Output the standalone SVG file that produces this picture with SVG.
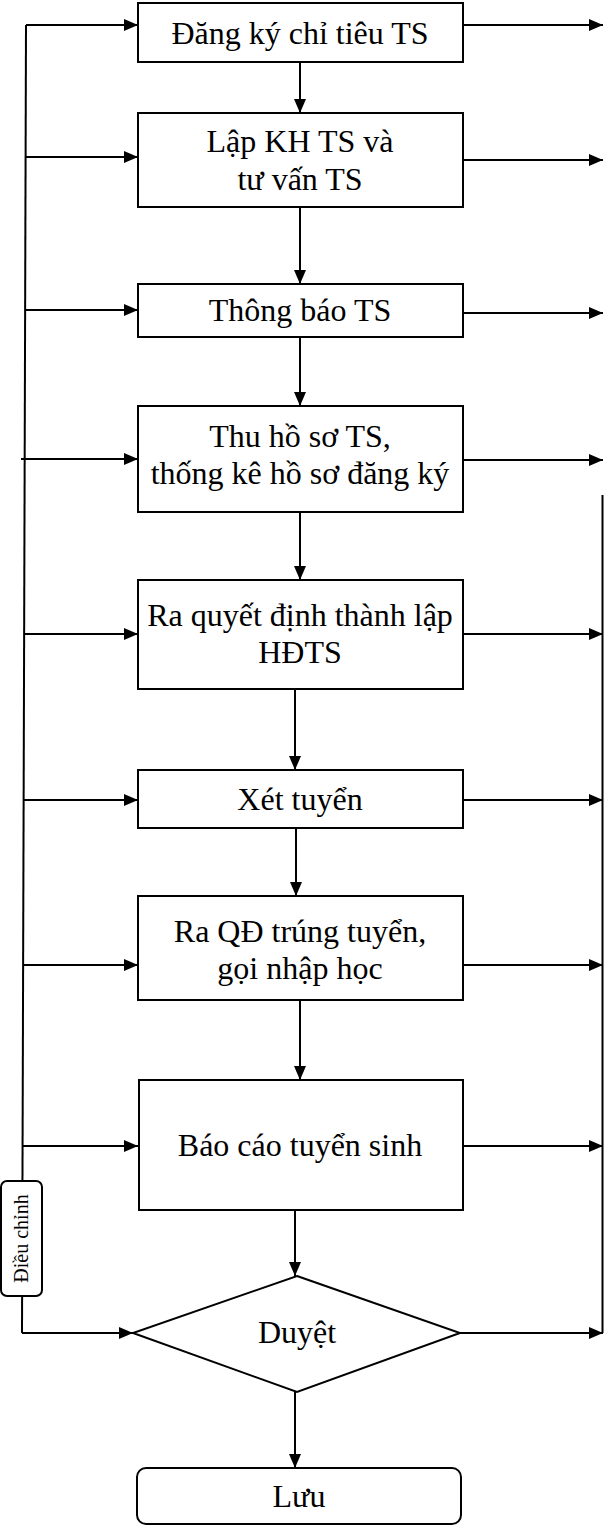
<svg xmlns="http://www.w3.org/2000/svg" width="604" height="1529" viewBox="0 0 604 1529">
<style>
.box{fill:#fff;stroke:#000;stroke-width:2}
.ln{fill:none;stroke:#000;stroke-width:2}
.t{font-family:"Liberation Serif","Times New Roman",serif;font-size:32px;fill:#000;text-anchor:middle}
.lbl{font-family:"Liberation Serif","Times New Roman",serif;font-size:20px;fill:#000;text-anchor:middle}
</style>
<defs>
<marker id="ah" markerUnits="userSpaceOnUse" markerWidth="14" markerHeight="12" refX="14" refY="6" orient="auto">
<path d="M0,0 L14,6 L0,12 z" fill="#000"/>
</marker>
</defs>
<rect width="604" height="1529" fill="#fff"/>
<g id="connectors">
<path class="ln" d="M26,25 L22,1333"/>
<path class="ln" d="M602.5,495 L602.5,1333"/>
<path class="ln" d="M26,25 H138" marker-end="url(#ah)"/>
<path class="ln" d="M26,157 H138" marker-end="url(#ah)"/>
<path class="ln" d="M25,310 H138" marker-end="url(#ah)"/>
<path class="ln" d="M21,459 H138" marker-end="url(#ah)"/>
<path class="ln" d="M24,634 H138" marker-end="url(#ah)"/>
<path class="ln" d="M23,800 H138" marker-end="url(#ah)"/>
<path class="ln" d="M23,965 H138" marker-end="url(#ah)"/>
<path class="ln" d="M22,1146 H138" marker-end="url(#ah)"/>
<path class="ln" d="M22,1333 H133" marker-end="url(#ah)"/>
<path class="ln" d="M463,25 H603" marker-end="url(#ah)"/>
<path class="ln" d="M463,160 H603" marker-end="url(#ah)"/>
<path class="ln" d="M463,313 H603" marker-end="url(#ah)"/>
<path class="ln" d="M463,460 H603" marker-end="url(#ah)"/>
<path class="ln" d="M463,634 H603" marker-end="url(#ah)"/>
<path class="ln" d="M463,800 H603" marker-end="url(#ah)"/>
<path class="ln" d="M463,965 H603" marker-end="url(#ah)"/>
<path class="ln" d="M463,1146 H603" marker-end="url(#ah)"/>
<path class="ln" d="M460,1333 H603" marker-end="url(#ah)"/>
<path class="ln" d="M300,62 V113" marker-end="url(#ah)"/>
<path class="ln" d="M300,207 V284" marker-end="url(#ah)"/>
<path class="ln" d="M300,337 V406" marker-end="url(#ah)"/>
<path class="ln" d="M300,512 V580" marker-end="url(#ah)"/>
<path class="ln" d="M295,689 V770" marker-end="url(#ah)"/>
<path class="ln" d="M296,828 V896" marker-end="url(#ah)"/>
<path class="ln" d="M300,1000 V1080" marker-end="url(#ah)"/>
<path class="ln" d="M295,1210 V1276" marker-end="url(#ah)"/>
<path class="ln" d="M295,1392 V1468" marker-end="url(#ah)"/>
</g>
<g id="label-dieu-chinh">
<rect x="1" y="1181" width="41" height="115" rx="6" class="box"/>
<text class="lbl" transform="translate(28,1238.5) rotate(-90)">Điều chỉnh</text>
</g>
<g id="n1"><rect class="box" x="138" y="3" width="325" height="59"/><text class="t" x="300" y="44">Đăng ký chỉ tiêu TS</text></g>
<g id="n2"><rect class="box" x="138" y="113" width="325" height="94"/><text class="t" x="300" y="152">Lập KH TS và</text><text class="t" x="300" y="190">tư vấn TS</text></g>
<g id="n3"><rect class="box" x="138" y="284" width="325" height="53"/><text class="t" x="300" y="321">Thông báo TS</text></g>
<g id="n4"><rect class="box" x="138" y="406" width="325" height="106"/><text class="t" x="300" y="447">Thu hồ sơ TS,</text><text class="t" x="300" y="484">thống kê hồ sơ đăng ký</text></g>
<g id="n5"><rect class="box" x="138" y="580" width="325" height="109"/><text class="t" x="300" y="626">Ra quyết định thành lập</text><text class="t" x="300" y="663">HĐTS</text></g>
<g id="n6"><rect class="box" x="138" y="770" width="325" height="58"/><text class="t" x="300" y="810">Xét tuyển</text></g>
<g id="n7"><rect class="box" x="138" y="896" width="325" height="104"/><text class="t" x="300" y="942">Ra QĐ trúng tuyển,</text><text class="t" x="300" y="979">gọi nhập học</text></g>
<g id="n8"><rect class="box" x="139" y="1080" width="324" height="130"/><text class="t" x="300" y="1156">Báo cáo tuyển sinh</text></g>
<g id="n9"><polygon class="box" points="297,1276 460,1333 297,1392 133,1333"/><text class="t" x="297" y="1343">Duyệt</text></g>
<g id="n10"><rect class="box" x="137" y="1468" width="324" height="56" rx="9"/><text class="t" x="299" y="1507">Lưu</text></g>
</svg>
